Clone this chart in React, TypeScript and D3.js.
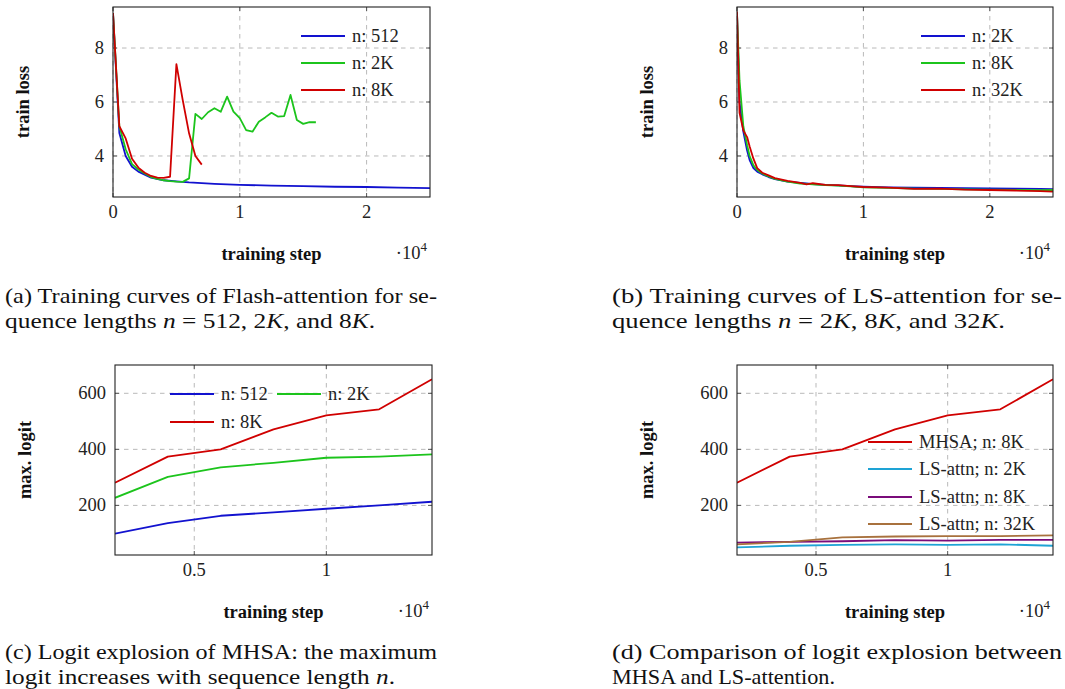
import React from 'react';
import * as d3 from 'd3';

const FONT = '"Liberation Serif", "Times New Roman", serif';
const FS = 18.5;

// colours of the series
const BLUE = '#1212cf';
const GREEN = '#1cc41c';
const RED = '#d00000';
const CYAN = '#1ea3d5';
const PURPLE = '#7a0c7a';
const BROWN = '#a8713d';

// (a) Flash-attention training loss, x in 1e4 steps
const flashStepsRed = [0, 0.05, 0.1, 0.15, 0.2, 0.25, 0.3, 0.35, 0.4, 0.45, 0.5, 0.55, 0.6, 0.65, 0.7];
const flashLoss8K = [9.3, 5.1, 4.65, 3.9, 3.57, 3.38, 3.26, 3.2, 3.19, 3.23, 7.4, 6.07, 4.84, 4.0, 3.68];
const flashStepsGreen = [
  0, 0.05, 0.1, 0.15, 0.2, 0.25, 0.3, 0.35, 0.4, 0.45, 0.5, 0.55, 0.6, 0.65, 0.7, 0.75, 0.8,
  0.85, 0.9, 0.95, 1.0, 1.05, 1.1, 1.15, 1.2, 1.25, 1.3, 1.35, 1.4, 1.45, 1.5, 1.55, 1.6,
];
const flashLoss2K = [
  9.3, 5.1, 4.25, 3.7, 3.5, 3.35, 3.22, 3.15, 3.1, 3.07, 3.05, 3.04, 3.17, 5.56, 5.37, 5.62, 5.77,
  5.64, 6.2, 5.64, 5.4, 4.96, 4.9, 5.27, 5.43, 5.6, 5.46, 5.48, 6.26, 5.33, 5.19, 5.25, 5.25,
];
const flashStepsBlue = [0, 0.05, 0.1, 0.15, 0.2, 0.3, 0.4, 0.5, 0.6, 0.8, 1.0, 1.25, 1.5, 1.75, 2.0, 2.25, 2.5];
const flashLoss512 = [9.3, 4.85, 4.0, 3.6, 3.42, 3.2, 3.1, 3.06, 3.02, 2.97, 2.93, 2.9, 2.88, 2.86, 2.85, 2.83, 2.81];

// (b) LS-attention training loss
const lsSteps = [
  0, 0.02, 0.05, 0.08, 0.1, 0.13, 0.16, 0.2, 0.25, 0.3, 0.4, 0.5, 0.55, 0.6, 0.7, 0.8, 0.9, 1.0,
  1.2, 1.4, 1.6, 1.8, 2.0, 2.2, 2.4, 2.5,
];
const lsLoss2K = [
  9.3, 6.0, 4.9, 4.2, 3.85, 3.55, 3.42, 3.32, 3.22, 3.14, 3.05, 3.0, 2.98, 2.96, 2.93, 2.91, 2.88, 2.86,
  2.84, 2.83, 2.82, 2.81, 2.8, 2.79, 2.78, 2.77,
];
const lsLoss8K = [
  9.3, 6.8, 5.1, 4.4, 4.0, 3.65, 3.48, 3.35, 3.24, 3.15, 3.05, 2.98, 2.97, 2.95, 2.92, 2.9, 2.87, 2.84,
  2.82, 2.79, 2.78, 2.76, 2.75, 2.74, 2.73, 2.74,
];
const lsLoss32K = [
  9.35, 5.6, 4.95, 4.7, 4.35, 3.9, 3.55, 3.38, 3.28, 3.18, 3.08, 3.0, 2.95, 2.99, 2.93, 2.92, 2.88, 2.85,
  2.83, 2.78, 2.79, 2.75, 2.74, 2.72, 2.7, 2.68,
];

// (c) / (d) max. logit
const logitSteps = [0.2, 0.4, 0.6, 0.8, 1.0, 1.2, 1.4];
const mhsaLogit512 = [99, 137, 163, 175, 188, 200, 213];
const mhsaLogit2K = [227, 302, 336, 352, 370, 374, 382];
const mhsaLogit8K = [281, 374, 400, 471, 521, 543, 650];
const lsLogit2K = [50, 56, 59, 61, 59, 61, 56];
const lsLogit8K = [67, 70, 72, 76, 74, 77, 77];
const lsLogit32K = [61, 70, 86, 89, 90, 90, 93];

const lossTicks = [4, 6, 8];
const stepTicksLoss = [0, 1, 2];
const logitTicks = [200, 400, 600];
const stepTicksLogit = [0.5, 1];

type Series = { xs: number[]; ys: number[]; color: string; label: string };
type LegendPos = { x: number; y: number };

type PanelProps = {
  id: string;
  box: { x0: number; x1: number; y0: number; y1: number };
  xDomain: [number, number];
  yDomain: [number, number];
  xTicks: number[];
  yTicks: number[];
  yLabel: string;
  series: Series[];
  legend: LegendPos[]; // line start & row centre for each series, relative to the box
};

function Panel({ id, box, xDomain, yDomain, xTicks, yTicks, yLabel, series, legend }: PanelProps) {
  const x = d3.scaleLinear().domain(xDomain).range([box.x0, box.x1]);
  const y = d3.scaleLinear().domain(yDomain).range([box.y1, box.y0]);
  const path = (s: Series) =>
    d3
      .line<[number, number]>()
      .x((d) => x(d[0]))
      .y((d) => y(d[1]))(s.xs.map((v, i) => [v, s.ys[i]] as [number, number])) || '';
  const tickLen = 4;
  const cx = (box.x0 + box.x1) / 2;
  const cy = (box.y0 + box.y1) / 2;
  return (
    <g>
      <defs>
        <clipPath id={id}>
          <rect x={box.x0} y={box.y0} width={box.x1 - box.x0} height={box.y1 - box.y0} />
        </clipPath>
      </defs>
      {/* grid */}
      {xTicks.map((t) => (
        <line key={'gx' + t} x1={x(t)} x2={x(t)} y1={box.y0} y2={box.y1} stroke="#b9b9b9" strokeDasharray="4.5 4.5" />
      ))}
      {yTicks.map((t) => (
        <line key={'gy' + t} x1={box.x0} x2={box.x1} y1={y(t)} y2={y(t)} stroke="#b9b9b9" strokeDasharray="4.5 4.5" />
      ))}
      {/* tick marks */}
      {xTicks.map((t) => (
        <g key={'tx' + t} stroke="#555" strokeWidth={1}>
          <line x1={x(t)} x2={x(t)} y1={box.y1} y2={box.y1 - tickLen} />
          <line x1={x(t)} x2={x(t)} y1={box.y0} y2={box.y0 + tickLen} />
        </g>
      ))}
      {yTicks.map((t) => (
        <g key={'ty' + t} stroke="#555" strokeWidth={1}>
          <line x1={box.x0} x2={box.x0 + tickLen} y1={y(t)} y2={y(t)} />
          <line x1={box.x1} x2={box.x1 - tickLen} y1={y(t)} y2={y(t)} />
        </g>
      ))}
      {/* series */}
      <g clipPath={`url(#${id})`}>
        {series.map((s) => (
          <path key={s.label} d={path(s)} fill="none" stroke={s.color} strokeWidth={1.8} strokeLinejoin="round" />
        ))}
      </g>
      <rect x={box.x0} y={box.y0} width={box.x1 - box.x0} height={box.y1 - box.y0} fill="none" stroke="#222" strokeWidth={1.1} />
      {/* tick labels */}
      {xTicks.map((t) => (
        <text key={'lx' + t} x={x(t)} y={box.y1 + 21} textAnchor="middle" fontFamily={FONT} fontSize={FS} fill="#222">
          {d3.format('~g')(t)}
        </text>
      ))}
      {yTicks.map((t) => (
        <text key={'ly' + t} x={box.x0 - 9} y={y(t) + 6} textAnchor="end" fontFamily={FONT} fontSize={FS} fill="#222">
          {t}
        </text>
      ))}
      {/* axis labels */}
      <text x={cx} y={box.y1 + 63} textAnchor="middle" fontFamily={FONT} fontSize={FS} fontWeight="bold" fill="#111">
        training step
      </text>
      <text x={box.x1 - 3} y={box.y1 + 62} textAnchor="end" fontFamily={FONT} fontSize={FS} fill="#222">
        ·10<tspan dy={-8} fontSize={13}>4</tspan>
      </text>
      <text
        transform={`translate(${box.x0 - 84},${cy}) rotate(-90)`}
        textAnchor="middle"
        fontFamily={FONT}
        fontSize={FS}
        fontWeight="bold"
        fill="#111"
      >
        {yLabel}
      </text>
      {/* legend */}
      {series.map((s, i) => (
        <g key={'lg' + s.label}>
          <line
            x1={box.x0 + legend[i].x}
            x2={box.x0 + legend[i].x + 44}
            y1={box.y0 + legend[i].y}
            y2={box.y0 + legend[i].y}
            stroke={s.color}
            strokeWidth={1.8}
          />
          <text x={box.x0 + legend[i].x + 51} y={box.y0 + legend[i].y + 6} fontFamily={FONT} fontSize={FS} fill="#222">
            {s.label}
          </text>
        </g>
      ))}
    </g>
  );
}

function Caption({
  x,
  y,
  first,
  second,
  width1,
  width2,
}: {
  x: number;
  y: number;
  first: string;
  second: React.ReactNode;
  width1: number;
  width2: number;
}) {
  return (
    <g fontFamily={FONT} fontSize={22} fill="#111">
      <text x={x} y={y} textLength={width1} lengthAdjust="spacingAndGlyphs">
        {first}
      </text>
      <text x={x} y={y + 25} textLength={width2} lengthAdjust="spacingAndGlyphs">
        {second}
      </text>
    </g>
  );
}

const it = (s: string) => <tspan fontStyle="italic">{s}</tspan>;

export default function App() {
  const boxA = { x0: 113, x1: 430, y0: 7, y1: 197 };
  const boxB = { x0: 737, x1: 1053, y0: 7, y1: 197 };
  const boxC = { x0: 115, x1: 432, y0: 365, y1: 555 };
  const boxD = { x0: 737, x1: 1053, y0: 365, y1: 555 };
  return (
    <svg width={1065} height={689} style={{ position: 'absolute', left: 0, top: 0, background: '#fff' }}>
      <Panel
        id="clipA"
        box={boxA}
        xDomain={[0, 2.5]}
        yDomain={[2.48, 9.52]}
        xTicks={stepTicksLoss}
        yTicks={lossTicks}
        yLabel="train loss"
        series={[
          { xs: flashStepsBlue, ys: flashLoss512, color: BLUE, label: 'n: 512' },
          { xs: flashStepsGreen, ys: flashLoss2K, color: GREEN, label: 'n: 2K' },
          { xs: flashStepsRed, ys: flashLoss8K, color: RED, label: 'n: 8K' },
        ]}
        legend={[
          { x: 188, y: 29 },
          { x: 188, y: 56 },
          { x: 188, y: 83 },
        ]}
      />
      <Panel
        id="clipB"
        box={boxB}
        xDomain={[0, 2.5]}
        yDomain={[2.48, 9.52]}
        xTicks={stepTicksLoss}
        yTicks={lossTicks}
        yLabel="train loss"
        series={[
          { xs: lsSteps, ys: lsLoss2K, color: BLUE, label: 'n: 2K' },
          { xs: lsSteps, ys: lsLoss8K, color: GREEN, label: 'n: 8K' },
          { xs: lsSteps, ys: lsLoss32K, color: RED, label: 'n: 32K' },
        ]}
        legend={[
          { x: 184, y: 29 },
          { x: 184, y: 56 },
          { x: 184, y: 83 },
        ]}
      />
      <Panel
        id="clipC"
        box={boxC}
        xDomain={[0.2, 1.4]}
        yDomain={[23, 701]}
        xTicks={stepTicksLogit}
        yTicks={logitTicks}
        yLabel="max. logit"
        series={[
          { xs: logitSteps, ys: mhsaLogit512, color: BLUE, label: 'n: 512' },
          { xs: logitSteps, ys: mhsaLogit2K, color: GREEN, label: 'n: 2K' },
          { xs: logitSteps, ys: mhsaLogit8K, color: RED, label: 'n: 8K' },
        ]}
        legend={[
          { x: 55, y: 29 },
          { x: 162, y: 29 },
          { x: 55, y: 57 },
        ]}
      />
      <Panel
        id="clipD"
        box={boxD}
        xDomain={[0.2, 1.4]}
        yDomain={[23, 701]}
        xTicks={stepTicksLogit}
        yTicks={logitTicks}
        yLabel="max. logit"
        series={[
          { xs: logitSteps, ys: mhsaLogit8K, color: RED, label: 'MHSA; n: 8K' },
          { xs: logitSteps, ys: lsLogit2K, color: CYAN, label: 'LS-attn; n: 2K' },
          { xs: logitSteps, ys: lsLogit8K, color: PURPLE, label: 'LS-attn; n: 8K' },
          { xs: logitSteps, ys: lsLogit32K, color: BROWN, label: 'LS-attn; n: 32K' },
        ]}
        legend={[
          { x: 131, y: 77 },
          { x: 131, y: 104 },
          { x: 131, y: 132 },
          { x: 131, y: 159 },
        ]}
      />
      <Caption
        x={5}
        y={303}
        width1={432}
        width2={370}
        first="(a) Training curves of Flash-attention for se-"
        second={
          <>
            quence lengths {it('n')} = 512, 2{it('K')}, and 8{it('K')}.
          </>
        }
      />
      <Caption
        x={612}
        y={303}
        width1={450}
        width2={393}
        first="(b) Training curves of LS-attention for se-"
        second={
          <>
            quence lengths {it('n')} = 2{it('K')}, 8{it('K')}, and 32{it('K')}.
          </>
        }
      />
      <Caption
        x={5}
        y={659}
        width1={432}
        width2={390}
        first="(c) Logit explosion of MHSA: the maximum"
        second={<>logit increases with sequence length {it('n')}.</>}
      />
      <Caption
        x={612}
        y={659}
        width1={450}
        width2={223}
        first="(d) Comparison of logit explosion between"
        second={<>MHSA and LS-attention.</>}
      />
    </svg>
  );
}
